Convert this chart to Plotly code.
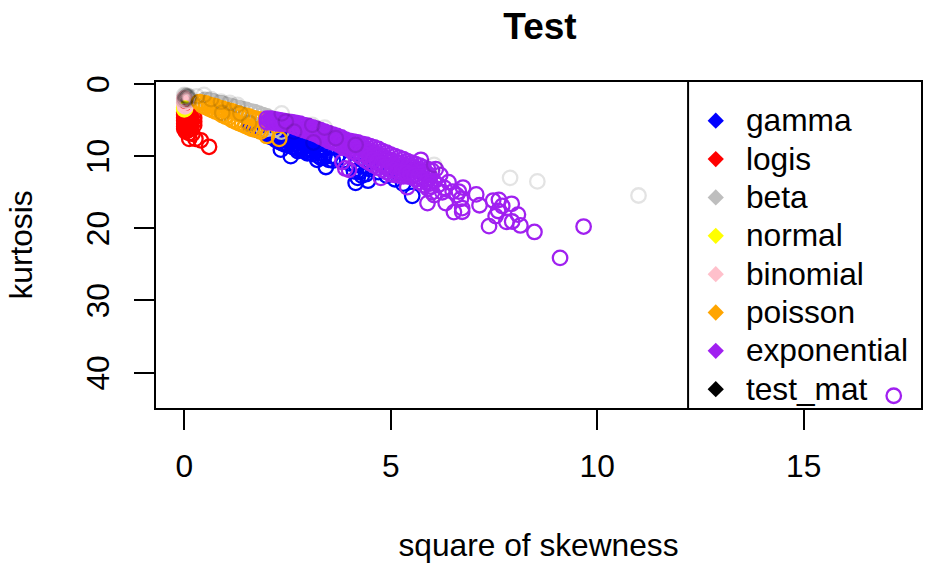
import plotly.graph_objects as go

gamma_x = [1.6,1.7,1.8,1.9,2.0,2.1,2.2,2.3,2.4,2.5,2.6,2.7,2.8,2.9,3.0,3.1,3.2,3.3,3.4,
           1.65,1.75,1.85,1.95,2.05,2.15,2.25,2.35,2.45,2.55,2.65,2.75,2.85,2.95,3.05,3.15,3.25,3.35,
           2.02,2.09,2.16,2.23,2.3,2.37,2.44,2.51,2.62,2.69,2.76,2.83,2.92,3.03,3.12,3.27,3.38,
           3.55,3.7,3.85,4.0,4.15,4.3,4.5,4.7,4.9,5.1,5.3,
           2.34,2.58,2.75,2.98,3.22,3.3,3.43,3.5,3.6,4.15,4.2,4.45,4.11,4.3,4.25,4.4,5.52]
gamma_y = [5.9,6.1,6.4,6.6,6.8,7.0,7.3,7.5,7.7,7.9,8.1,8.3,8.6,8.8,9.0,9.2,9.4,9.6,9.8,
           5.6,5.8,6.0,6.2,6.4,6.6,6.8,7.0,7.2,7.4,7.7,7.9,8.1,8.3,8.5,8.7,8.9,9.1,
           7.1,7.3,7.5,7.8,8.0,8.2,8.4,8.5,8.7,8.9,9.0,9.1,9.3,9.5,9.7,10.0,10.2,
           10.0,10.3,10.6,11.0,11.2,11.4,11.8,12.2,12.7,13.2,13.8,
           9.1,10.0,9.3,9.6,10.5,10.2,11.5,10.5,10.6,13.7,13.0,13.4,12.1,12.7,12.2,12.5,15.5]

logis_x = [0.0,0.0,0.0,0.0,0.0,0.0,0.0,0.08,0.08,0.08,0.08,0.08,0.08,0.08,0.16,0.16,0.16,0.16,0.16,
           0.24,0.24,0.24,0.04,0.12,0.2,0.6,0.4,0.27,0.12]
logis_y = [3.9,4.3,4.7,5.1,5.5,5.9,6.2,4.0,4.4,4.8,5.2,5.6,6.0,6.4,4.4,4.8,5.2,5.6,6.2,
           4.7,5.2,5.7,6.6,6.8,6.9,8.7,7.8,7.6,7.6]

beta_x = [0.5,0.6,0.7,0.8,0.9,1.0,1.1,1.2,1.3,1.4,1.5,1.6,1.7,1.8,1.9,2.0,2.1,2.2,2.3,1.9,2.0,2.2,2.35]
beta_y = [2.2,2.3,2.4,2.6,2.7,2.9,3.0,3.2,3.3,3.5,3.6,3.8,3.9,4.1,4.3,4.5,4.8,5.1,5.5,6.0,6.2,6.3,6.6]

normal_x = [0.0,0.02,0.0]
normal_y = [3.3,3.4,3.5]

binomial_x = [0.0,0.04,0.0,0.04,0.02]
binomial_y = [2.0,2.3,2.6,2.9,3.1]

poisson_x = [0.36,0.44,0.52,0.6,0.68,0.76,0.84,0.92,1.0,1.08,1.16,1.24,1.32,1.4,1.48,1.56,1.64,1.72,1.8,
             0.44,0.52,0.6,0.68,0.76,0.84,0.92,1.0,1.08,1.16,1.24,1.32,1.4,1.48,1.56,1.64,1.72,1.8,
             1.85,2.0,2.3,1.86]
poisson_y = [2.5,2.6,2.7,2.9,3.0,3.1,3.3,3.4,3.6,3.7,3.8,4.0,4.1,4.3,4.4,4.5,4.7,4.8,4.9,
             3.0,3.2,3.4,3.6,3.8,4.0,4.3,4.5,4.7,5.0,5.2,5.4,5.6,5.8,6.0,6.2,6.3,6.4,
             6.6,7.2,7.6,5.0]

band_x = [2.0,2.1,2.2,2.3,2.4,2.5,2.6,2.7,2.8,2.9,3.0,3.1,3.2,3.3,3.4,3.5,3.6,3.7,3.8,3.9,4.0,
          4.1,4.2,4.3,4.4,4.5,4.6,4.7,4.8,4.9,5.0,5.1,5.2,5.3,5.4,5.5,5.6,5.7,5.8,5.9,6.0]
band_x_mid = [2.05,2.15,2.25,2.35,2.45,2.55,2.65,2.75,2.85,2.95,3.05,3.15,3.25,3.35,3.45,3.55,3.65,3.75,3.85,3.95,4.05,
              4.15,4.25,4.35,4.45,4.55,4.65,4.75,4.85,4.95,5.05,5.15,5.25,5.35,5.45,5.55,5.65,5.75,5.85,5.95,6.05]
band_top = [4.8,4.8,4.9,5.0,5.1,5.2,5.3,5.4,5.5,5.7,5.8,6.0,6.2,6.4,6.6,6.8,7.0,7.2,7.4,7.7,7.9,
            8.0,8.1,8.3,8.4,8.6,8.8,9.0,9.3,9.5,9.8,10.0,10.2,10.4,10.7,10.9,11.1,11.3,11.6,11.8,12.0]
band_mid = [5.0,5.0,5.1,5.2,5.3,5.4,5.5,5.6,5.8,6.0,6.2,6.4,6.6,6.8,7.0,7.3,7.5,7.7,8.0,8.2,8.5,
            8.7,8.9,9.1,9.4,9.8,10.0,10.3,10.5,10.8,11.1,11.3,11.5,11.7,11.8,11.9,12.1,12.3,12.6,13.0,13.5]
band_low = [5.3,5.3,5.4,5.5,5.5,5.6,5.8,6.0,6.2,6.4,6.6,6.8,7.0,7.3,7.6,7.9,8.1,8.3,8.6,8.8,9.1,
            9.4,9.8,10.2,10.6,11.0,11.3,11.6,11.9,12.2,12.5,12.6,12.7,12.8,12.8,12.9,13.2,13.6,14.0,14.5,15.0]
fill_a_x = [3.03,3.13,3.23,3.33,3.43,3.53,3.63,3.73,3.83,3.93,4.03,4.13,4.23,4.33,4.43,
            4.53,4.63,4.73,4.83,4.93,5.03,5.13,5.23,5.33,5.43,5.53,5.63,5.73,5.83,5.93]
fill_a_y = [6.1,6.3,6.5,6.7,6.9,7.1,7.4,7.6,7.8,8.1,8.3,8.4,8.6,8.8,9.1,
            9.3,9.6,9.8,10.1,10.4,10.6,10.8,11.0,11.2,11.3,11.5,11.8,12.0,12.3,12.6]
fill_b_x = [3.07,3.17,3.27,3.37,3.47,3.57,3.67,3.77,3.87,3.97,4.07,4.17,4.27,4.37,4.47,
            4.57,4.67,4.77,4.87,4.97,5.07,5.17,5.27,5.37,5.47,5.57,5.67,5.77,5.87,5.97]
fill_b_y = [6.6,6.8,7.0,7.3,7.5,7.7,8.0,8.2,8.4,8.6,8.9,9.2,9.5,9.8,10.2,
            10.5,10.8,11.1,11.4,11.7,11.9,12.1,12.2,12.3,12.4,12.6,12.8,13.2,13.6,14.2]
rings_x = [3.99,4.76,3.83,5.4,5.89,3.9,5.73,6.09,6.2,6.4,6.3,6.5,6.15,6.05,6.6,6.7,5.95,6.25,
           9.67,9.10,8.48,8.14,7.94,7.8,7.38,8.08,7.54,7.6,7.93,7.7,7.62,7.48,7.15,7.07,6.75,6.73,6.53,6.73,6.33,6.65,17.18]
rings_y = [11.9,13.0,10.8,14.3,16.5,11.7,10.5,11.8,12.6,13.6,14.4,14.9,14.0,15.4,15.4,15.9,13.8,15.0,
           19.75,24.1,20.5,19.6,19.05,19.1,19.7,18.1,18.3,17.6,16.6,16.9,16.05,16.15,16.8,15.3,14.35,17.7,17.75,17.2,16.5,14.9,43.2]
exponential_x = band_x + band_x_mid + band_x + fill_a_x + fill_b_x + rings_x
exponential_y = band_top + band_mid + band_low + fill_a_y + fill_b_y + rings_y

test_mat_x = [2.36,3.1,3.4,2.66,3.13,3.67,4.15,2.46,6.05,0.89,0.48,1.29,0.92,1.36,1.57,11.0,8.55,7.89,
              0.0,0.02,0.04,0.06,0.08,0.1,0.12,0.0,0.03,0.07,0.09,0.02,0.11,0.3,0.65,1.1]
test_mat_y = [4.06,5.67,6.05,6.6,8.1,7.5,8.44,5.2,11.2,2.45,1.5,2.9,4.0,4.06,5.4,15.45,13.5,13.0,
              1.5,1.6,1.8,1.7,1.9,2.0,2.2,2.3,2.1,1.6,1.8,2.0,1.7,1.7,2.1,2.6]

x_ticks = [0, 5, 10, 15]
y_ticks = [0, 10, 20, 30, 40]

names = ["gamma", "logis", "beta", "normal", "binomial", "poisson", "exponential", "test_mat"]
xs_all = [gamma_x, logis_x, beta_x, normal_x, binomial_x, poisson_x, exponential_x, test_mat_x]
ys_all = [gamma_y, logis_y, beta_y, normal_y, binomial_y, poisson_y, exponential_y, test_mat_y]
rings = ["#0000FF", "#FF0000", "#BEBEBE", "#FFFF00", "#FFC0CB", "#FFA500", "#A020F0", "rgba(0,0,0,0.11)"]
keys = ["#0000FF", "#FF0000", "#BEBEBE", "#FFFF00", "#FFC0CB", "#FFA500", "#A020F0", "#000000"]

FONT = "Liberation Sans"
FS = 31.7
fig = go.Figure()
for name, xs, ys, ring in zip(names, xs_all, ys_all, rings):
    fig.add_trace(go.Scatter(x=xs, y=ys, mode="markers", name=name, showlegend=False,
                             marker=dict(symbol="circle-open", size=14.5, color=ring,
                                         line=dict(width=2.3, color=ring))))

# Key drawn on hidden category axes, so its rows come from the axis scale
fig.add_trace(go.Scatter(x=[12.87] * len(names), y=names, yaxis="y2", mode="markers", showlegend=False,
                         marker=dict(symbol="diamond", size=12.5, color=keys)))
fig.add_trace(go.Scatter(x=[13.6] * len(names), y=names, yaxis="y3", mode="text", showlegend=False,
                         text=names, textposition="middle right",
                         textfont=dict(family=FONT, size=FS, color="black")))

fig.add_shape(type="line", x0=12.2, x1=12.2, yref="paper", y0=0, y1=1, line=dict(color="black", width=2))

fig.update_layout(
    width=927, height=563, autosize=False,
    paper_bgcolor="white", plot_bgcolor="white",
    margin=dict(l=156, r=4, t=82, b=155, pad=0),
    font=dict(family=FONT, size=FS, color="black"),
    title=dict(text="<b>Test</b>", x=540/927, xanchor="center", y=1-26/563, yanchor="middle",
               font=dict(family=FONT, size=37)),
    showlegend=False,
    xaxis=dict(range=[-0.684, 17.84], tickvals=x_ticks, ticks="outside", ticklen=20, tickwidth=2, tickcolor="black",
               showline=True, linecolor="black", linewidth=2, mirror=True, showgrid=False, zeroline=False,
               ticklabelstandoff=9, title=dict(text="square of skewness", standoff=51, font=dict(size=FS))),
    yaxis=dict(range=[44.9, -0.28], tickvals=y_ticks, ticks="outside", ticklen=20, tickwidth=2, tickcolor="black",
               showline=True, linecolor="black", linewidth=2, mirror=True, showgrid=False, zeroline=False,
               tickangle=-90, ticklabelstandoff=12, ticklabelshift=-5,
               title=dict(text="kurtosis", standoff=38, font=dict(size=FS))),
    yaxis2=dict(overlaying="y", anchor="x", type="category", categoryorder="array", categoryarray=names,
                range=[7.49, -1.01], visible=False),
    yaxis3=dict(overlaying="y", anchor="x", type="category", categoryorder="array", categoryarray=names,
                range=[7.42, -1.08], visible=False),
)
fig.write_html("out.html", post_script="document.body.style.margin='0';", config=dict(displayModeBar=False))
